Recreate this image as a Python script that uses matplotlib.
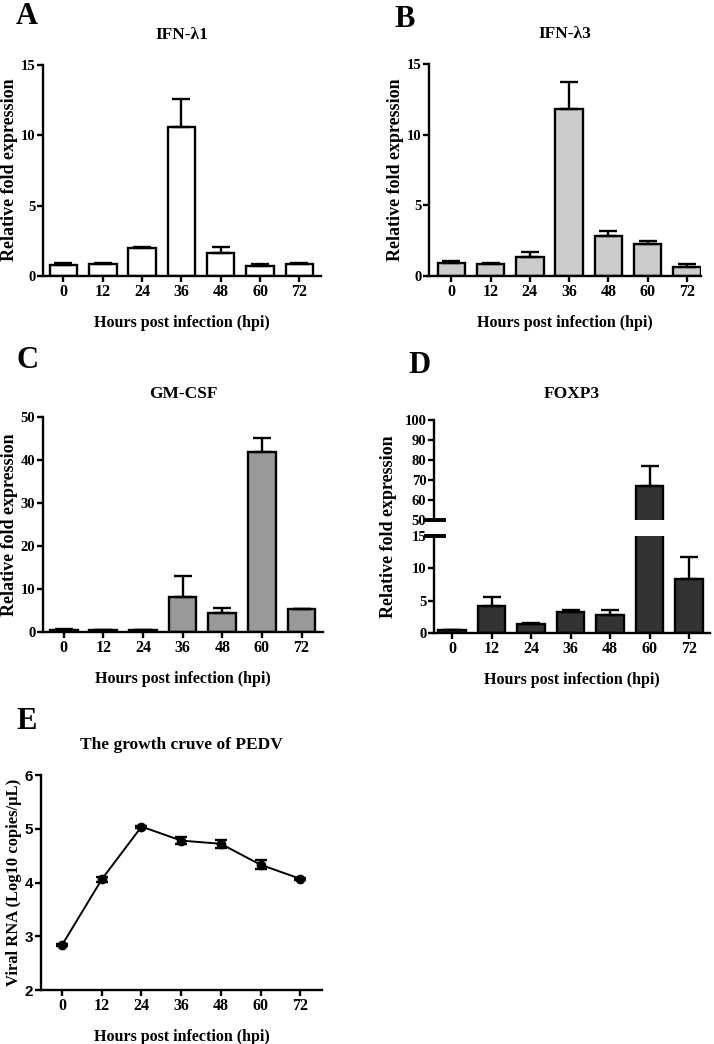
import matplotlib.pyplot as plt
import numpy as np

plt.rcParams['font.family'] = ['Liberation Serif', 'DejaVu Serif']
plt.rcParams['font.weight'] = 'bold'
plt.rcParams['axes.labelweight'] = 'bold'

hours = ['0', '12', '24', '36', '48', '60', '72']

ifn_l1 = [0.75, 0.83, 1.97, 10.57, 1.62, 0.74, 0.83]
ifn_l1_err = [0.15, 0.08, 0.06, 2.03, 0.43, 0.10, 0.08]

ifn_l3 = [0.92, 0.87, 1.35, 11.84, 2.86, 2.25, 0.66]
ifn_l3_err = [0.13, 0.08, 0.38, 1.86, 0.31, 0.21, 0.17]

gmcsf = [0.5, 0.4, 0.35, 8.2, 4.4, 41.9, 5.3]
gmcsf_err = [0.2, 0.1, 0.1, 4.8, 1.1, 3.2, 0.1]

foxp3 = [0.4, 4.1, 1.4, 3.2, 2.8, 67.0, 8.4]
foxp3_err = [0.1, 1.4, 0.1, 0.4, 0.8, 10.0, 3.4]

hpi = [0, 12, 24, 36, 48, 60, 72]
pedv = [2.84, 4.06, 5.04, 4.78, 4.72, 4.33, 4.07]
pedv_err = [0.02, 0.05, 0.02, 0.07, 0.08, 0.08, 0.02]

LW = 1.7
W, H = 714, 1044
XTICK = 11.5
YTICK = 10.5
YLAB = 13
XLAB = 11.5
TITLE = 12.5


def box(l, t, r, b):
    # pixel box -> figure fraction
    return [l / W, 1 - b / H, (r - l) / W, (b - t) / H]


def style(ax):
    for s in ['top', 'right']:
        ax.spines[s].set_visible(False)
    for s in ['left', 'bottom']:
        ax.spines[s].set_linewidth(LW)
    ax.tick_params(width=LW, length=4, pad=1.5)
    ax.tick_params(axis='x', labelsize=XTICK)
    ax.tick_params(axis='y', labelsize=YTICK)


def ylab(text, x, y, size=YLAB):
    fig.text(x / W, 1 - y / H, text, fontsize=size, fontweight='bold',
             rotation=90, ha='center', va='center')


def bars(ax, vals, errs, color):
    x = np.arange(len(vals))
    ax.bar(x, vals, 0.7, color=color, edgecolor='black', linewidth=LW, zorder=2)
    ax.errorbar(x, vals, yerr=[np.zeros(len(vals)), errs], fmt='none',
                ecolor='black', elinewidth=LW, capsize=6.5, capthick=LW, zorder=3)
    ax.set_xticks(x)
    ax.set_xticklabels(hours)


fig = plt.figure(figsize=(7.14, 10.44), dpi=100)

# A
ax = fig.add_axes(box(43, 65, 321, 276))
bars(ax, ifn_l1, ifn_l1_err, 'white')
ax.set_xlim(-0.52, 6.55)
ax.set_ylim(0, 15)
ax.set_yticks([0, 5, 10, 15])
style(ax)
ax.set_title('IFN-λ1', fontsize=TITLE, fontweight='bold', pad=19)
ax.set_xlabel('Hours post infection (hpi)', fontsize=XLAB, labelpad=11)
ylab('Relative fold expression', 10, 170)

# B
ax = fig.add_axes(box(429, 64, 701, 276))
bars(ax, ifn_l3, ifn_l3_err, '#cccccc')
ax.set_xlim(-0.57, 6.36)
ax.set_ylim(0, 15)
ax.set_yticks([0, 5, 10, 15])
style(ax)
ax.set_title('IFN-λ3', fontsize=TITLE, fontweight='bold', pad=19)
ax.set_xlabel('Hours post infection (hpi)', fontsize=XLAB, labelpad=11)
ylab('Relative fold expression', 395, 170)

# C
ax = fig.add_axes(box(43, 417, 323, 632))
bars(ax, gmcsf, gmcsf_err, '#999999')
ax.set_xlim(-0.52, 6.54)
ax.set_ylim(0, 50)
ax.set_yticks([0, 10, 20, 30, 40, 50])
style(ax)
ax.set_title('GM-CSF', fontsize=TITLE, fontweight='bold', pad=14)
ax.set_xlabel('Hours post infection (hpi)', fontsize=XLAB, labelpad=11)
ylab('Relative fold expression', 10, 525)

# D (broken axis)
axb = fig.add_axes(box(434, 536, 710, 633))
axt = fig.add_axes(box(434, 420, 710, 520), sharex=axb)
for a in (axb, axt):
    bars(a, foxp3, foxp3_err, '#333333')
    style(a)
    a.set_xlim(-0.46, 6.53)
axb.set_ylim(0, 15)
axb.set_yticks([0, 5, 10, 15])
axt.set_ylim(50, 100)
axt.set_yticks([50, 60, 70, 80, 90, 100])
axt.spines['bottom'].set_visible(False)
axt.tick_params(axis='x', bottom=False, labelbottom=False)
for a, yy in ((axb, 1.0), (axt, 0.0)):
    a.plot([-0.03, 0.035], [yy, yy], color='black', lw=2.8,
           transform=a.transAxes, clip_on=False)
axt.set_title('FOXP3', fontsize=TITLE, fontweight='bold', pad=16)
axb.set_xlabel('Hours post infection (hpi)', fontsize=XLAB, labelpad=11)
ylab('Relative fold expression', 389, 527)

# E
ax = fig.add_axes(box(41, 775, 322, 990))
ax.errorbar(hpi, pedv, yerr=pedv_err, color='black', lw=1.4, marker='o',
            markersize=6, ecolor='black', elinewidth=LW, capsize=4, capthick=LW,
            clip_on=False, zorder=3)
ax.set_xlim(-6.4, 78.6)
ax.set_ylim(2, 6)
ax.set_xticks(hpi)
ax.set_xticklabels(hours)
ax.set_yticks([2, 3, 4, 5, 6])
style(ax)
ax.tick_params(axis='y', labelsize=11)
for lab in ax.get_yticklabels():
    lab.set_fontfamily('Liberation Sans')
ax.set_title('The growth cruve of PEDV', fontsize=TITLE, fontweight='bold', pad=19)
ax.set_xlabel('Hours post infection (hpi)', fontsize=XLAB, labelpad=11)
ylab('Viral RNA (Log10 copies/μL)', 14, 882, size=12)

# panel letters
for letter, x, y in [('A', 16, 2), ('B', 394, 5), ('C', 16, 346),
                     ('D', 408, 351), ('E', 16, 707)]:
    fig.text(x / W, 1 - y / H, letter, fontsize=22, fontweight='bold',
             ha='left', va='top')

fig.savefig('out.png', dpi=100)
